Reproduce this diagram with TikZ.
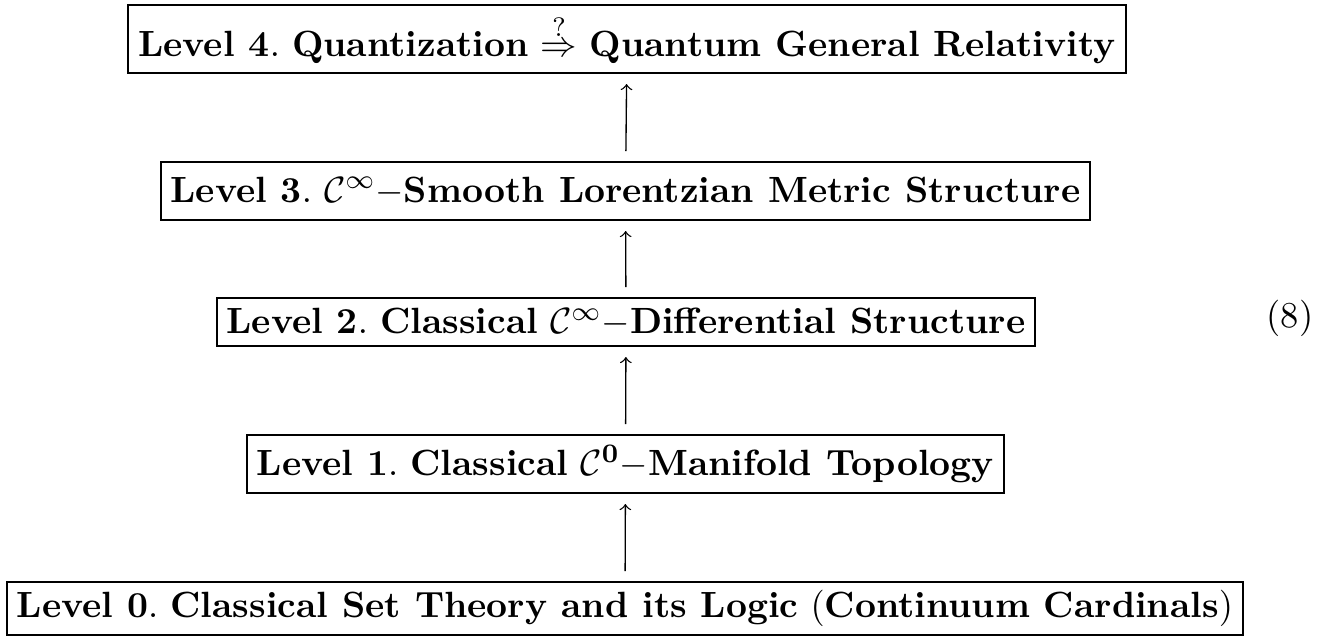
\documentclass[11pt,tikz,border=0pt]{standalone}
\usepackage{amsmath,amssymb}
\usepackage{xcolor}

\begin{document}
\begin{tikzpicture}[x=0.3pt,y=-0.3pt,
  tierbox/.style={draw,line width=0.6pt,inner xsep=3pt,inner ysep=1pt},
  liftarrow/.style={->,line width=0.4pt,shorten <=3pt,shorten >=3pt}]
\useasboundingbox (0,0) rectangle (1323,637);
\node[tierbox,minimum height=20.4pt] (l4) at (627,39) {\textbf{Level 4}$.$ \textbf{Quantization} $\overset{?}{\Rightarrow}$ \textbf{Quantum General Relativity}};
\node[tierbox,minimum height=17.4pt] (l3) at (625.5,191) {\textbf{Level 3}$.$ $\mathcal{C}^{\infty}{-}$\textbf{Smooth Lorentzian Metric Structure}};
\node[tierbox,minimum height=14.4pt] (l2) at (626,322) {\textbf{Level 2}$.$ \textbf{Classical} $\mathcal{C}^{\infty}{-}$\textbf{Differential Structure}};
\node[tierbox,minimum height=17.4pt] (l1) at (625.5,464) {\textbf{Level 1}$.$ \textbf{Classical} $\mathcal{C}^{\mathbf{0}}{-}$\textbf{Manifold Topology}};
\node[tierbox,minimum height=15.9pt] (l0) at (625,608.5) {\textbf{Level 0}$.$ \textbf{Classical Set Theory and its Logic} $($\textbf{Continuum Cardinals}$)$};
\node (eqno) at (1290,318) {(8)};
% arrows between the levels
\draw[liftarrow] (l0) -- (l1);
\draw[liftarrow] (l1) -- (l2);
\draw[liftarrow] (l2) -- (l3);
\draw[liftarrow] (l3) -- (l4);
\end{tikzpicture}
\end{document}
